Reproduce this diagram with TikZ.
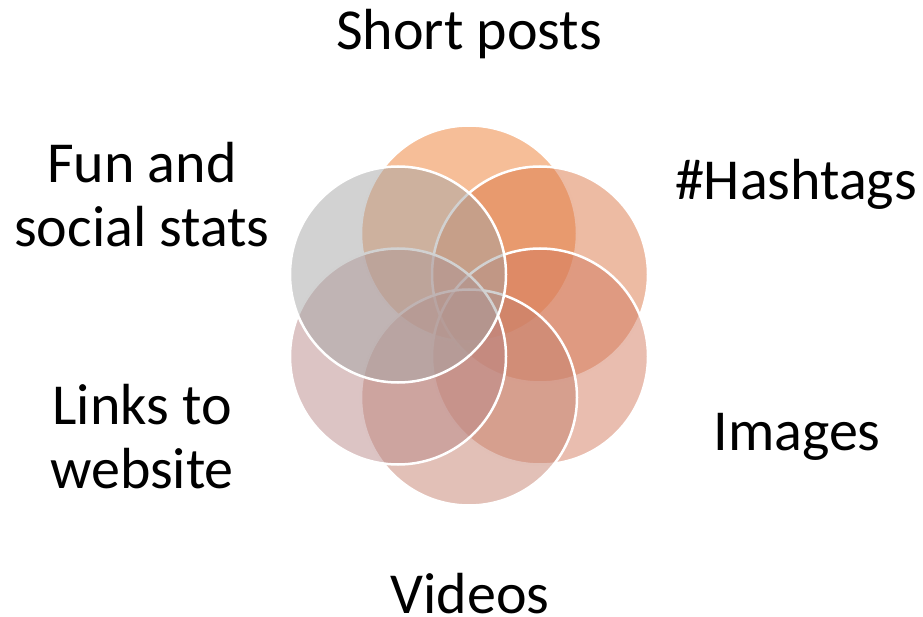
\documentclass[tikz,border=0pt]{standalone}
\usepackage{fontspec}
\setmainfont{Carlito}
\usetikzlibrary{calc}
\definecolor{c1}{RGB}{237,125,49}
\definecolor{c2}{RGB}{219,119,71}
\definecolor{c3}{RGB}{211,123,95}
\definecolor{c4}{RGB}{197,129,111}
\definecolor{c5}{RGB}{185,137,137}
\definecolor{c6}{RGB}{165,165,165}
\tikzset{
  petal/.style={circle, minimum size=216pt, inner sep=0pt, draw=white, line width=2.5pt, fill opacity=0.5},
  lbl/.style={font=\fontsize{58}{64}\selectfont, align=center, text=black, inner sep=0pt}
}
\begin{document}
\begin{tikzpicture}[x=1pt,y=-1pt]
\useasboundingbox (0,0) rectangle (923,617);
\coordinate (ctr) at (469,315.5);
\node[petal, fill=c1] (p1) at ($(ctr)+(0,-82)$) {};
\node[petal, fill=c2] (p2) at ($(ctr)+(71,-41)$) {};
\node[petal, fill=c3] (p3) at ($(ctr)+(71,41)$) {};
\node[petal, fill=c4] (p4) at ($(ctr)+(0,82)$) {};
\node[petal, fill=c5] (p5) at ($(ctr)+(-71,41)$) {};
\node[petal, fill=c6] (p6) at ($(ctr)+(-71,-41)$) {};
\node[lbl] (t1) at (469,34) {Short posts};
\node[lbl] (t2) at (796,184) {\#Hashtags};
\node[lbl] (t3) at (797,437) {Images};
\node[lbl] (t4) at (470,594) {Videos};
\node[lbl] (t5) at (142,195) {Fun and\\social stats};
\node[lbl] (t6) at (142,437) {Links to\\website};
\end{tikzpicture}
\end{document}
